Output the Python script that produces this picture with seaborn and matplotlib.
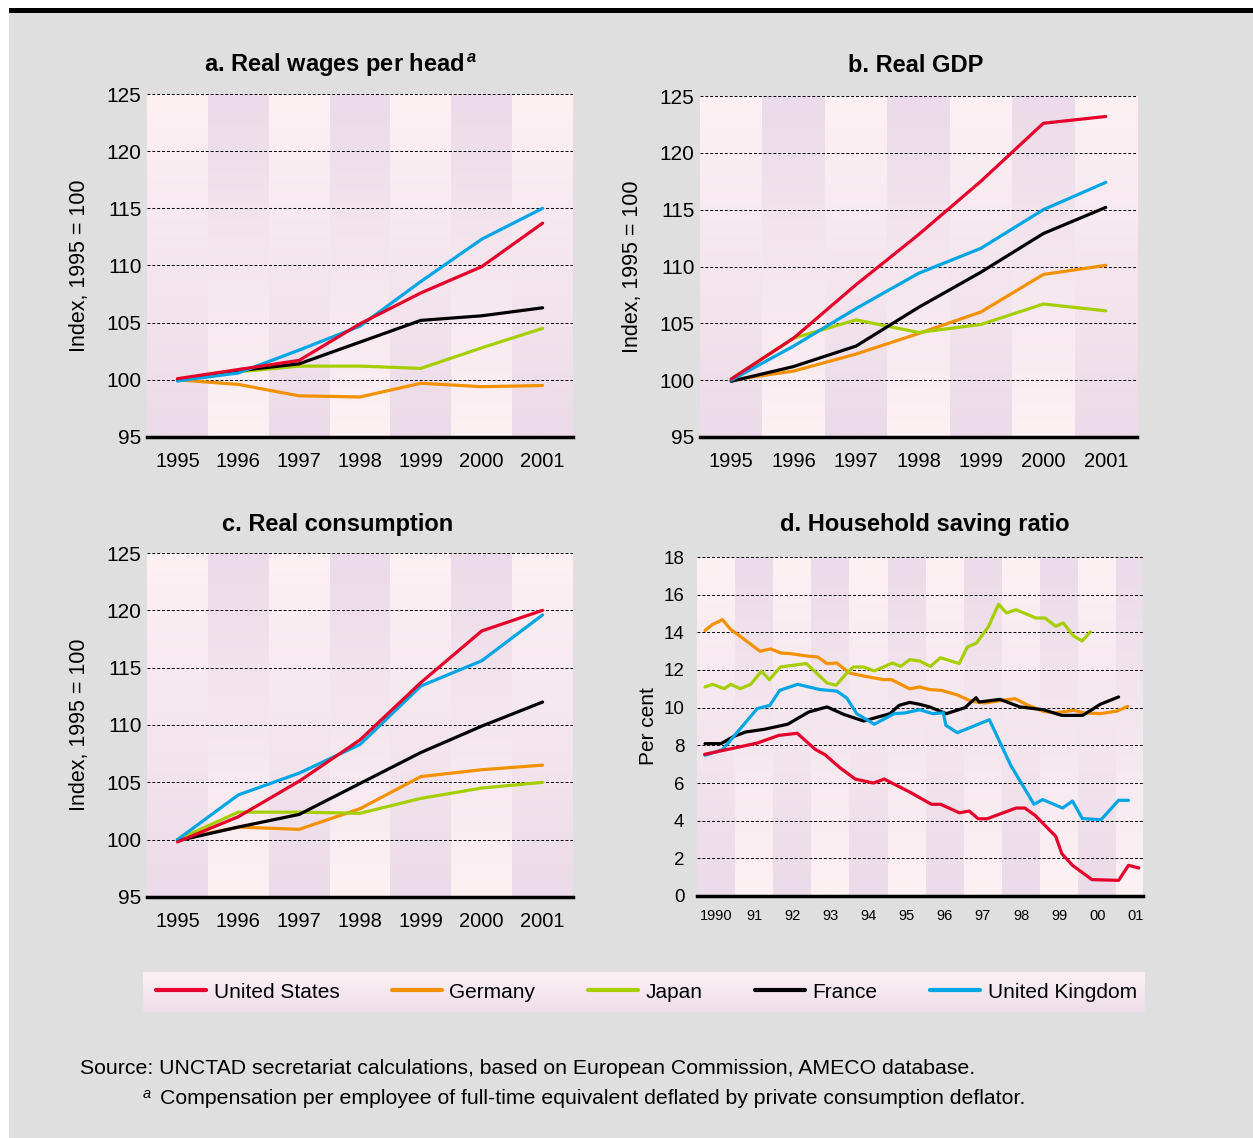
import numpy as np
import pandas as pd
import matplotlib
matplotlib.use('Agg')
import matplotlib.pyplot as plt
import matplotlib.colors as mcolors
from matplotlib.patches import Rectangle
from matplotlib.lines import Line2D
import seaborn as sns

sns.set_style('white')
plt.rcParams['font.family'] = ['Liberation Sans', 'DejaVu Sans']
plt.rcParams['mathtext.fontset'] = 'custom'
plt.rcParams['mathtext.it'] = 'Liberation Sans:italic:bold'
plt.rcParams['mathtext.rm'] = 'Liberation Sans'
for key in ['text.color', 'axes.labelcolor', 'xtick.color', 'ytick.color']:
    plt.rcParams[key] = 'black'

countries = ['United States', 'Germany', 'Japan', 'France', 'United Kingdom']
colors = ['#e4002b', '#f39200', '#a5cf00', '#000000', '#00a6e4']
draw_order = ['Germany', 'Japan', 'France', 'United Kingdom', 'United States']

years = [1995, 1996, 1997, 1998, 1999, 2000, 2001]
year_labels = ['1995', '1996', '1997', '1998', '1999', '2000', '2001']

# a. real wages per head (index, 1995 = 100)
wages = {
    'United States':  [100.1, 100.9, 101.7, 104.9, 107.6, 109.9, 113.7],
    'Germany':        [100.0, 99.6, 98.6, 98.5, 99.7, 99.4, 99.5],
    'Japan':          [100.0, 100.7, 101.2, 101.2, 101.0, 102.8, 104.5],
    'France':         [100.0, 100.8, 101.4, 103.3, 105.2, 105.6, 106.3],
    'United Kingdom': [99.9, 100.6, 102.6, 104.7, 108.6, 112.3, 115.0],
}

# b. real GDP
gdp = {
    'United States':  [100.1, 103.7, 108.4, 112.8, 117.5, 122.6, 123.2],
    'Germany':        [100.0, 100.8, 102.3, 104.1, 106.0, 109.3, 110.1],
    'Japan':          [100.1, 103.7, 105.3, 104.2, 104.9, 106.7, 106.1],
    'France':         [99.9, 101.2, 103.0, 106.4, 109.5, 112.9, 115.2],
    'United Kingdom': [100.0, 103.0, 106.3, 109.4, 111.6, 115.0, 117.4],
}

# c. real consumption
consumption = {
    'United States':  [99.8, 102.0, 105.1, 108.7, 113.7, 118.2, 120.0],
    'Germany':        [100.0, 101.1, 100.9, 102.7, 105.5, 106.1, 106.5],
    'Japan':          [100.0, 102.4, 102.4, 102.3, 103.6, 104.5, 105.0],
    'France':         [99.9, 101.1, 102.2, 104.9, 107.6, 109.9, 112.0],
    'United Kingdom': [100.0, 103.9, 105.8, 108.3, 113.4, 115.6, 119.6],
}

# d. household saving ratio (per cent)
us_x = [1990.2, 1991.58, 1992.15, 1992.63, 1993.1, 1993.36, 1993.75, 1994.15, 1994.63, 1994.91,
        1995.58, 1996.15, 1996.39, 1996.88, 1997.14, 1997.38, 1997.61, 1998.37, 1998.6, 1998.87,
        1999.41, 1999.57, 1999.85, 2000.36, 2001.06, 2001.32, 2001.59]
us_y = [7.52, 8.12, 8.53, 8.64, 7.79, 7.5, 6.81, 6.21, 6.0, 6.21,
        5.52, 4.87, 4.87, 4.42, 4.51, 4.1, 4.1, 4.67, 4.67, 4.28,
        3.17, 2.25, 1.63, 0.87, 0.83, 1.63, 1.49]
de_x = [1990.21, 1990.41, 1990.67, 1990.89, 1991.1, 1991.65, 1991.93, 1992.21, 1992.45, 1992.93,
        1993.17, 1993.41, 1993.67, 1994.0, 1994.37, 1994.89, 1995.1, 1995.58, 1995.84, 1996.1,
        1996.41, 1996.81, 1997.2, 1997.55, 1998.34, 1998.65, 1999.09, 1999.39, 1999.88, 2000.14,
        2000.58, 2001.02, 2001.3]
de_y = [14.1, 14.42, 14.67, 14.14, 13.84, 13.0, 13.12, 12.9, 12.87, 12.73,
        12.69, 12.34, 12.37, 11.84, 11.68, 11.49, 11.49, 11.0, 11.1, 10.96,
        10.92, 10.69, 10.34, 10.25, 10.48, 10.16, 9.8, 9.72, 9.86, 9.73,
        9.68, 9.82, 10.07]
jp_x = [1990.21, 1990.41, 1990.71, 1990.89, 1991.13, 1991.41, 1991.69, 1991.9, 1992.19, 1992.63,
        1992.87, 1993.41, 1993.65, 1993.93, 1994.1, 1994.37, 1994.65, 1995.13, 1995.34, 1995.58,
        1995.84, 1996.12, 1996.39, 1996.88, 1997.09, 1997.33, 1997.64, 1997.91, 1998.12, 1998.37,
        1998.89, 1999.13, 1999.41, 1999.61, 1999.86, 2000.1, 2000.32]
jp_y = [11.1, 11.24, 11.01, 11.24, 11.01, 11.24, 11.93, 11.49, 12.16, 12.28,
        12.34, 11.31, 11.19, 11.84, 12.16, 12.16, 11.95, 12.37, 12.19, 12.55,
        12.48, 12.19, 12.65, 12.34, 13.22, 13.43, 14.28, 15.49, 15.03, 15.2,
        14.76, 14.76, 14.32, 14.5, 13.84, 13.54, 14.02]
fr_x = [1990.21, 1990.63, 1990.97, 1991.28, 1991.76, 1992.38, 1992.93, 1993.41, 1993.84, 1994.37,
        1995.06, 1995.3, 1995.58, 1995.84, 1996.1, 1996.54, 1997.03, 1997.32, 1997.4, 1997.95,
        1998.47, 1999.09, 1999.57, 2000.12, 2000.58, 2001.06]
fr_y = [8.09, 8.09, 8.48, 8.71, 8.85, 9.12, 9.77, 10.04, 9.65, 9.29,
        9.68, 10.12, 10.28, 10.18, 10.04, 9.68, 10.0, 10.53, 10.3, 10.44,
        10.04, 9.89, 9.59, 9.59, 10.18, 10.57]
uk_x = [1990.21, 1990.67, 1991.58, 1991.91, 1992.17, 1992.64, 1993.23, 1993.67, 1993.93, 1994.19,
        1994.65, 1995.17, 1995.45, 1995.84, 1996.19, 1996.46, 1996.53, 1996.83, 1997.67, 1998.23,
        1998.84, 1999.07, 1999.59, 1999.85, 2000.11, 2000.6, 2001.06, 2001.32]
uk_y = [7.47, 7.77, 9.95, 10.12, 10.92, 11.24, 10.96, 10.88, 10.51, 9.68,
        9.12, 9.68, 9.72, 9.89, 9.68, 9.73, 9.06, 8.67, 9.36, 6.94,
        4.87, 5.12, 4.67, 5.04, 4.11, 4.05, 5.08, 5.08]
saving_years = list(range(1990, 2002))
saving_labels = ['1990', '91', '92', '93', '94', '95', '96', '97', '98', '99', '00', '01']

saving = {
    'United States': (us_x, us_y),
    'Germany': (de_x, de_y),
    'Japan': (jp_x, jp_y),
    'France': (fr_x, fr_y),
    'United Kingdom': (uk_x, uk_y),
}

palette = dict(zip(countries, colors))
W, H = 1253, 1138
fig = plt.figure(figsize=(W / 100, H / 100), dpi=100)
fig.patch.set_facecolor('white')
fig.patches.append(Rectangle((9 / W, 0), 1, 1 - 13 / H, transform=fig.transFigure,
                             facecolor='#dfdfdf', edgecolor='none', zorder=-5))
fig.patches.append(Rectangle((9 / W, 1 - 13 / H), 1, 5 / H, transform=fig.transFigure,
                             facecolor='black', edgecolor='none', zorder=-4))

light = np.array(mcolors.to_rgb('#fdf1f4'))
dark = np.array(mcolors.to_rgb('#ecdbe8'))


def gradient(top, bottom):
    t = np.linspace(0, 1, 64)[:, None, None]
    return top + (bottom - top) * t


def draw_bands(ax, edges, ymin, ymax):
    for i in range(len(edges) - 1):
        top, bottom = (light, dark) if i % 2 == 0 else (dark, light)
        ax.imshow(gradient(top, bottom), extent=[edges[i], edges[i + 1], ymin, ymax],
                  aspect='auto', origin='upper', interpolation='bilinear', zorder=0)


def style_axis(ax, edges, centers, labels, ylim, yticks, xsize, ysize, xpad, ypad):
    ax.set_xlim(edges[0], edges[-1])
    ax.set_ylim(*ylim)
    ax.set_xticks(edges)
    ax.set_xticklabels([])
    ax.set_xticks(centers, minor=True)
    ax.set_xticklabels(labels, minor=True)
    ax.tick_params(axis='x', which='major', direction='in', length=5, width=1.2, color='black')
    ax.tick_params(axis='x', which='minor', length=0, pad=xpad, labelsize=xsize)
    ax.set_yticks(yticks)
    ax.tick_params(axis='y', length=0, pad=ypad, labelsize=ysize)
    ax.grid(True, axis='y', color='black', linestyle=(0, (3, 2)), linewidth=0.7)
    ax.grid(False, axis='x')
    ax.set_axisbelow(True)
    for s in ['left', 'right', 'top']:
        ax.spines[s].set_visible(False)
    ax.spines['bottom'].set_linewidth(2.5)
    ax.spines['bottom'].set_color('black')
    ax.set_facecolor('none')


def index_panel(rect, data, title, title_x, title_pad):
    ax = fig.add_axes(rect)
    edges = [y - 0.5 for y in years] + [years[-1] + 0.5]
    draw_bands(ax, edges, 95, 125)
    for c in draw_order:
        df = pd.DataFrame({'year': years, 'value': data[c]})
        sns.lineplot(data=df, x='year', y='value', color=palette[c], lw=2.3,
                     errorbar=None, ax=ax, zorder=3)
    style_axis(ax, edges, years, year_labels, (95, 125), range(95, 126, 5),
               14.5, 15, 11, 4)
    ax.set_xlabel('')
    ax.set_ylabel('Index, 1995 = 100', fontsize=15.5, labelpad=12)
    ax.set_title(title, fontsize=17, fontweight='bold', x=title_x, pad=title_pad)
    return ax


index_panel([147 / W, 1 - 437 / H, 426 / W, 343 / H], wages,
            r'a. Real wages per head$^{\,\mathit{a}}$', 0.455, 16)
index_panel([700 / W, 1 - 437 / H, 437 / W, 341 / H], gdp,
            'b. Real GDP', 0.494, 17)
index_panel([147 / W, 1 - 897 / H, 426 / W, 344 / H], consumption,
            'c. Real consumption', 0.448, 16)

# d. household saving ratio
axd = fig.add_axes([697 / W, 1 - 896 / H, 446 / W, 339 / H])
d_edges = saving_years + [2001.7]
draw_bands(axd, saving_years + [2002], 0, 18)
for c in draw_order:
    xs, ys = saving[c]
    df = pd.DataFrame({'year': xs, 'value': ys})
    sns.lineplot(data=df, x='year', y='value', color=palette[c], lw=2.3,
                 errorbar=None, ax=axd, zorder=3)
style_axis(axd, d_edges, [y + 0.5 for y in saving_years], saving_labels, (0, 18),
           range(0, 19, 2), 10.5, 13.5, 9, 9)
axd.set_xlabel('')
axd.set_ylabel('Per cent', fontsize=15, labelpad=4)
axd.set_title('d. Household saving ratio', fontsize=17, fontweight='bold', x=0.511, pad=19)

# legend strip
axl = fig.add_axes([143 / W, 1 - 1012 / H, 1002 / W, 40 / H])
axl.imshow(gradient(light, np.array(mcolors.to_rgb('#eedde9'))), extent=[0, 1, 0, 1],
           aspect='auto', origin='upper', interpolation='bilinear')
axl.set_xlim(0, 1)
axl.set_ylim(0, 1)
axl.axis('off')
handles = [Line2D([], [], color=palette[c], lw=3) for c in countries]
axl.legend(handles, countries, ncol=5, mode='expand', loc='center',
           bbox_to_anchor=(0.005, 0, 0.995, 1), frameon=False, fontsize=15,
           handlelength=2.4, handletextpad=0.35, borderaxespad=0)

fig.text(80 / W, 1 - 1068 / H,
         'Source: UNCTAD secretariat calculations, based on European Commission, AMECO database.',
         fontsize=15.3, va='center', ha='left')
fig.text(143 / W, 1 - 1094 / H, 'a', fontsize=10.5, style='italic', va='center', ha='left')
fig.text(160 / W, 1 - 1098 / H,
         'Compensation per employee of full-time equivalent deflated by private consumption deflator.',
         fontsize=15.3, va='center', ha='left')

fig.savefig('out.png', dpi=100)
